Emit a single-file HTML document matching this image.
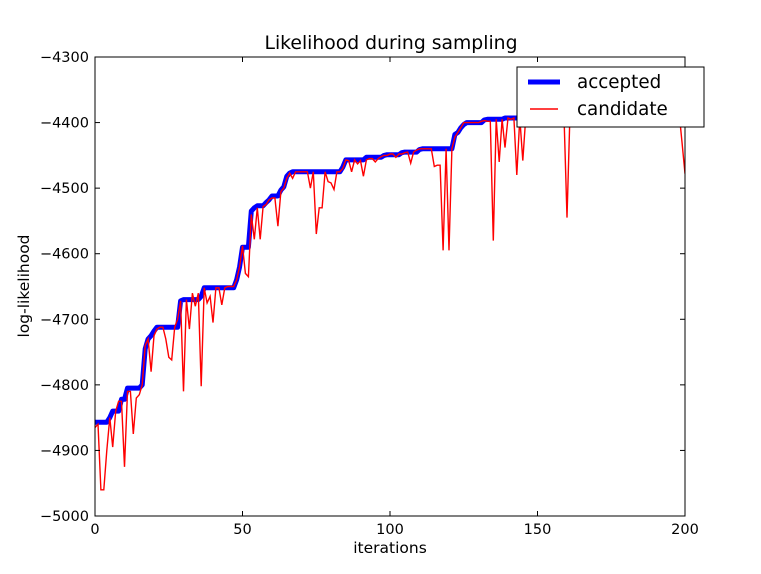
<!DOCTYPE html>
<html><head><meta charset="utf-8"><style>
body{margin:0;background:#fff;}
svg{display:block;font-family:"DejaVu Sans","Liberation Sans",sans-serif;}
</style></head><body>
<svg id="chart" width="761" height="574" viewBox="0 0 761 574">
<rect width="761" height="574" fill="#fff"/>
<text x="391" y="49" font-size="18.8" text-anchor="middle">Likelihood during sampling</text>
<defs><clipPath id="clip"><rect x="95" y="57" width="590" height="459"/></clipPath></defs>
<g id="plot" clip-path="url(#clip)"></g>
<rect x="95" y="57" width="590" height="459" fill="none" stroke="#000" stroke-width="1"/>
<g id="axes"></g>
<text x="390" y="553" font-size="15.5" text-anchor="middle">iterations</text>
<text x="29" y="286" font-size="15.5" text-anchor="middle" transform="rotate(-90 29 286)">log-likelihood</text>
<g>
<rect x="517" y="67" width="187" height="60" fill="#fff" stroke="#000" stroke-width="1"/>
<line x1="528" y1="82" x2="560" y2="82" stroke="#0000ff" stroke-width="5"/>
<text x="577" y="88" font-size="18.3">accepted</text>
<line x1="530" y1="109" x2="558" y2="109" stroke="#ff0000" stroke-width="1.4"/>
<text x="577" y="115" font-size="18.3">candidate</text>
</g>
</svg>
<script>
const xTicks=[0,50,100,150,200];
const yTicks=[-5000,-4900,-4800,-4700,-4600,-4500,-4400,-4300];
const acceptedSteps=[[0,-4857],[5,-4850],[6,-4840],[9,-4822],[11,-4805],[16,-4800],[17,-4745],[18,-4730],[19,-4725],[20,-4718],[21,-4712],[29,-4672],[30,-4670],[36,-4665],[37,-4652],[48,-4640],[49,-4620],[50,-4590],[53,-4535],[54,-4530],[55,-4527],[58,-4522],[59,-4518],[60,-4512],[63,-4503],[64,-4498],[65,-4482],[66,-4477],[67,-4475],[84,-4468],[85,-4457],[92,-4453],[98,-4450],[99,-4449],[104,-4446],[105,-4445],[110,-4441],[111,-4440],[122,-4418],[123,-4415],[124,-4408],[125,-4403],[126,-4400],[132,-4396],[133,-4395],[139,-4393],[147,-4390],[161,-4385],[171,-4360],[195,-4338]];
const candidate=[-4865,-4860,-4960,-4960,-4900,-4850,-4895,-4840,-4825,-4825,
-4925,-4810,-4810,-4875,-4820,-4815,-4800,-4740,-4730,-4780,
-4725,-4715,-4712,-4712,-4730,-4758,-4762,-4712,-4700,-4672,
-4810,-4670,-4715,-4660,-4680,-4660,-4802,-4652,-4675,-4665,
-4705,-4652,-4652,-4678,-4652,-4650,-4650,-4650,-4640,-4620,
-4588,-4630,-4635,-4540,-4578,-4530,-4578,-4528,-4525,-4518,
-4515,-4515,-4558,-4505,-4500,-4485,-4477,-4485,-4475,-4475,
-4475,-4475,-4475,-4500,-4475,-4570,-4530,-4530,-4475,-4490,
-4492,-4502,-4475,-4475,-4470,-4457,-4458,-4475,-4457,-4463,
-4458,-4482,-4457,-4455,-4455,-4460,-4455,-4452,-4450,-4450,
-4448,-4448,-4453,-4448,-4448,-4446,-4445,-4462,-4445,-4442,
-4440,-4440,-4440,-4440,-4440,-4467,-4465,-4465,-4595,-4440,
-4595,-4440,-4422,-4415,-4408,-4400,-4400,-4400,-4400,-4400,
-4400,-4398,-4397,-4398,-4398,-4580,-4395,-4460,-4395,-4438,
-4393,-4395,-4393,-4480,-4393,-4458,-4393,-4390,-4390,-4390,
-4390,-4390,-4390,-4390,-4390,-4390,-4390,-4390,-4390,-4390,
-4545,-4385,-4385,-4385,-4385,-4385,-4385,-4385,-4385,-4385,
-4385,-4360,-4360,-4360,-4360,-4360,-4360,-4360,-4360,-4360,
-4360,-4360,-4360,-4360,-4360,-4360,-4360,-4360,-4360,-4360,
-4360,-4360,-4360,-4360,-4360,-4338,-4338,-4338,-4385,-4430,
-4478];
const NS='http://www.w3.org/2000/svg';
const X0=95,X1=685,Y0=516,Y1=57;
const xs=v=>X0+(v-0)/(200-0)*(X1-X0);
const ys=v=>Y0-(v+5000)/700*(Y0-Y1);
function mk(t,a){const e=document.createElementNS(NS,t);for(const k in a)e.setAttribute(k,a[k]);return e;}
const axes=document.getElementById('axes');
xTicks.forEach(t=>{
 const x=xs(t);
 const g=mk('g',{});
 
 
 g.appendChild(mk('line',{x1:x,y1:Y0,x2:x,y2:Y0-5,stroke:'#000'}));
 g.appendChild(mk('line',{x1:x,y1:Y1,x2:x,y2:Y1+5,stroke:'#000'}));
 const tx=mk('text',{x:x,y:Y0+18,'font-size':14.5,'text-anchor':'middle'});tx.textContent=t;g.appendChild(tx);
 axes.appendChild(g);
});
yTicks.forEach(t=>{
 const y=ys(t);
 const g=mk('g',{});
 
 
 g.appendChild(mk('line',{x1:X0,y1:y,x2:X0+5,y2:y,stroke:'#000'}));
 g.appendChild(mk('line',{x1:X1,y1:y,x2:X1-5,y2:y,stroke:'#000'}));
 const tx=mk('text',{x:X0-6,y:y+5,'font-size':14.5,'text-anchor':'end'});tx.textContent='\u2212'+Math.abs(t);g.appendChild(tx);
 axes.appendChild(g);
});
const accepted=[];
for(let i=0;i<=200;i++){let v=acceptedSteps[0][1];for(const s of acceptedSteps){if(s[0]<=i)v=s[1];}accepted.push(v);}
const plot=document.getElementById('plot');
const accPts=accepted.map((v,i)=>xs(i).toFixed(1)+','+ys(v).toFixed(1)).join(' ');
const accLine=mk('polyline',{points:accPts,fill:'none',stroke:'#0000ff','stroke-width':5,'stroke-linejoin':'round'});


plot.appendChild(accLine);
const candPts=candidate.map((v,i)=>xs(i).toFixed(1)+','+ys(v).toFixed(1)).join(' ');
const candLine=mk('polyline',{points:candPts,fill:'none',stroke:'#ff0000','stroke-width':1.4});


plot.appendChild(candLine);
</script>
</body></html>
